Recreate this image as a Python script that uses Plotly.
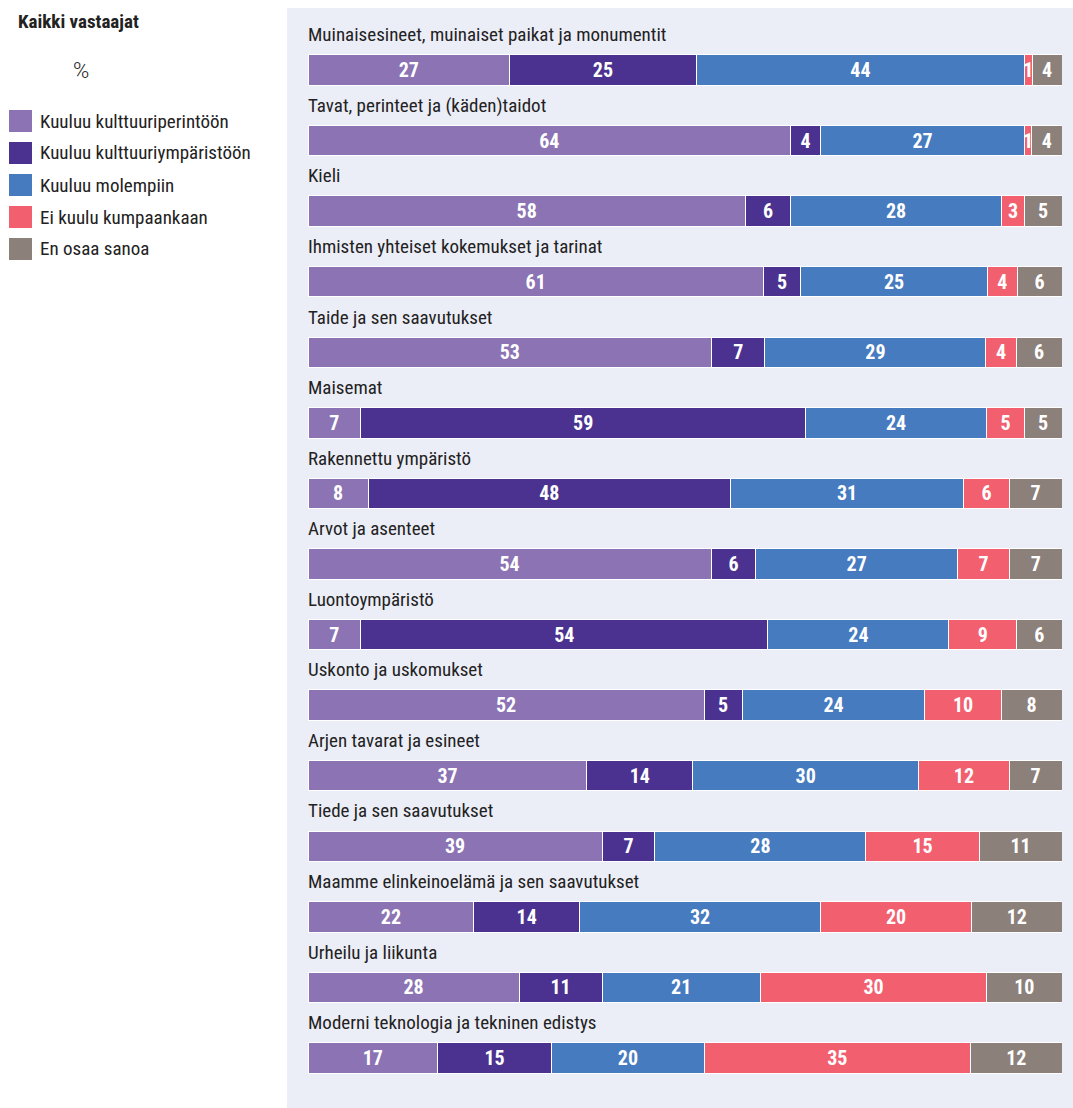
import plotly.graph_objects as go

categories = [
    "Muinaisesineet, muinaiset paikat ja monumentit",
    "Tavat, perinteet ja (käden)taidot",
    "Kieli",
    "Ihmisten yhteiset kokemukset ja tarinat",
    "Taide ja sen saavutukset",
    "Maisemat",
    "Rakennettu ympäristö",
    "Arvot ja asenteet",
    "Luontoympäristö",
    "Uskonto ja uskomukset",
    "Arjen tavarat ja esineet",
    "Tiede ja sen saavutukset",
    "Maamme elinkeinoelämä ja sen saavutukset",
    "Urheilu ja liikunta",
    "Moderni teknologia ja tekninen edistys",
]
series_names = [
    "Kuuluu kulttuuriperintöön",
    "Kuuluu kulttuuriympäristöön",
    "Kuuluu molempiin",
    "Ei kuulu kumpaankaan",
    "En osaa sanoa",
]
perinto = [27, 64, 58, 61, 53, 7, 8, 54, 7, 52, 37, 39, 22, 28, 17]
ymparisto = [25, 4, 6, 5, 7, 59, 48, 6, 54, 5, 14, 7, 14, 11, 15]
molempiin = [44, 27, 28, 25, 29, 24, 31, 27, 24, 24, 30, 28, 32, 21, 20]
ei_kumpaankaan = [1, 1, 3, 4, 4, 5, 6, 7, 9, 10, 12, 15, 20, 30, 35]
en_osaa = [4, 4, 5, 6, 6, 5, 7, 7, 6, 8, 7, 11, 12, 10, 12]
series_values = [perinto, ymparisto, molempiin, ei_kumpaankaan, en_osaa]
colors = ["#8B73B4", "#4B3290", "#467BBF", "#F26070", "#8C807B"]

FONT = "Roboto Condensed, Liberation Sans Narrow, DejaVu Sans Condensed, sans-serif"
W, H = 1073, 1108
ML, MR = 308, 11
PW = W - ML - MR

def px_x(p):
    return (p - ML) / PW

def px_y(p):
    return 1 - p / H

ypos = list(range(len(categories)))

fig = go.Figure()
for name, vals, col in zip(series_names, series_values, colors):
    fig.add_trace(go.Bar(
        y=ypos, x=vals, name=name, orientation="h",
        marker=dict(color=col, line=dict(color="white", width=1)),
        text=[str(v) for v in vals], textposition="inside",
        insidetextanchor="middle", textangle=0,
        textfont=dict(family=FONT, size=20, color="white", weight="bold"),
        width=0.43, showlegend=False,
        hovertemplate="%{fullData.name}: %{text}<extra></extra>",
    ))

shapes = [dict(type="rect", xref="paper", yref="paper", layer="below",
               x0=px_x(287), x1=px_x(1073), y0=0, y1=px_y(8),
               fillcolor="#ECEEF7", line=dict(width=0))]
annotations = []
for i, c in enumerate(categories):
    annotations.append(dict(x=0, y=i - 0.5, xref="x", yref="y", text=c,
                            showarrow=False, xanchor="left", yanchor="middle",
                            xshift=-2,
                            font=dict(family=FONT, size=19, color="#222222")))
# legend
for k, (name, col) in enumerate(zip(series_names, colors)):
    top = 110 + 32 * k
    shapes.append(dict(type="rect", xref="paper", yref="paper",
                       x0=px_x(9), x1=px_x(32), y0=px_y(top + 22), y1=px_y(top),
                       fillcolor=col, line=dict(width=0)))
    annotations.append(dict(x=px_x(38), y=px_y(top + 11), xref="paper", yref="paper",
                            text=name, showarrow=False, xanchor="left", yanchor="middle",
                            font=dict(family=FONT, size=19, color="#222222")))
annotations.append(dict(x=px_x(16), y=px_y(21), xref="paper", yref="paper",
                        text="<b>Kaikki vastaajat</b>", showarrow=False,
                        xanchor="left", yanchor="middle",
                        font=dict(family=FONT, size=19, color="#222222")))
annotations.append(dict(x=px_x(81), y=px_y(70), xref="paper", yref="paper",
                        text="%", showarrow=False, xanchor="center", yanchor="middle",
                        font=dict(family="Roboto, sans-serif", size=22, color="#222222",
                                  weight=300)))

pitch = 70.57
r_top = -70 / pitch
r_bot = r_top + H / pitch

fig.update_layout(
    width=W, height=H, barmode="stack", barnorm="percent",
    margin=dict(l=ML, r=MR, t=0, b=0),
    paper_bgcolor="white", plot_bgcolor="rgba(0,0,0,0)",
    xaxis=dict(range=[0, 100], visible=False, fixedrange=True),
    yaxis=dict(range=[r_bot, r_top], visible=False, fixedrange=True),
    uniformtext=dict(minsize=20, mode="show"),
    shapes=shapes, annotations=annotations,
    font=dict(family=FONT),
)
fig.write_html("out.html", config={"displayModeBar": False},
               post_script="document.body.style.margin='0';document.body.style.overflow='hidden';")
